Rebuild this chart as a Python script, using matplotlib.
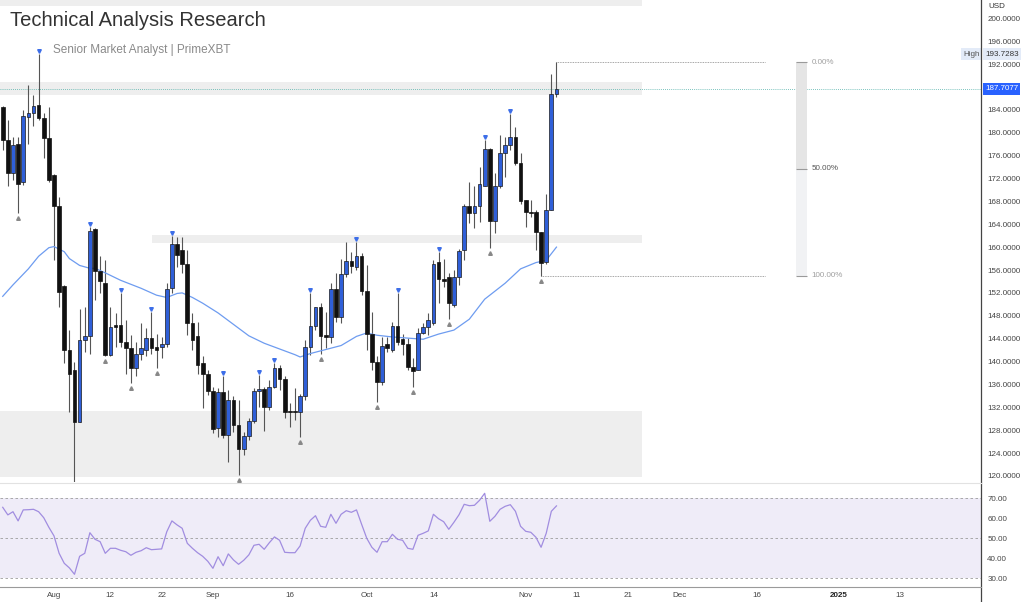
import numpy as np
import pandas as pd
import matplotlib
matplotlib.use('Agg')
import matplotlib.pyplot as plt
import matplotlib.dates as mdates
from matplotlib.lines import Line2D
from matplotlib.transforms import blended_transform_factory, offset_copy

plt.rcParams['font.family'] = ['Liberation Sans', 'DejaVu Sans']

# daily candles, 22 Jul 2024 -> 7 Nov 2024
opens = [184.5, 178.8, 173.0, 178.0, 171.3, 182.7, 183.5, 184.9, 182.5, 179.1,
         172.6, 167.2, 153.2, 142.1, 138.5, 129.4, 143.8, 144.5, 163.2, 155.8,
         153.8, 141.1, 146.4, 146.4, 143.4, 142.3, 138.8, 141.4, 142.1, 144.1,
         142.6, 142.6, 143.1, 152.8, 160.5, 159.5, 157.0, 146.7, 144.5, 139.7,
         137.8, 134.9, 128.4, 134.6, 127.2, 133.3, 128.9, 124.7, 127.0, 129.6,
         134.9, 135.2, 132.1, 135.6, 138.8, 136.9, 131.4, 131.2, 131.1, 133.9,
         142.6, 146.3, 149.5, 144.6, 144.3, 152.6, 147.8, 155.3, 157.6, 156.6,
         158.5, 152.4, 144.9, 140.0, 136.5, 143.1, 142.0, 146.2, 143.9, 143.1,
         139.0, 138.5, 145.0, 146.1, 146.7, 157.4, 154.5, 154.7, 149.9, 154.7,
         159.5, 167.2, 166.0, 167.1, 170.6, 177.1, 164.6, 170.6, 176.4, 177.8,
         179.3, 174.7, 168.3, 166.2, 166.1, 162.6, 157.4, 166.5, 186.7]
highs = [184.6, 182.2, 179.3, 179.3, 184.0, 188.3, 186.6, 193.7283, 183.4, 184.5,
         172.8, 168.8, 153.3, 145.5, 140.0, 149.1, 149.6, 163.5, 163.4, 158.4,
         157.7, 149.6, 148.4, 151.9, 147.3, 144.6, 143.5, 146.8, 145.8, 148.7,
         144.9, 144.3, 153.7, 161.9, 161.8, 161.7, 159.5, 148.5, 147.0, 140.9,
         138.5, 135.6, 135.3, 137.4, 135.0, 133.9, 133.3, 127.7, 130.1, 135.3,
         137.6, 135.6, 136.8, 139.7, 139.4, 137.4, 132.7, 135.3, 134.4, 143.8,
         151.9, 149.6, 150.2, 148.7, 153.7, 155.4, 157.9, 160.9, 159.2, 160.9,
         158.9, 156.9, 148.7, 140.9, 144.3, 144.3, 147.0, 152.0, 144.9, 144.1,
         140.6, 145.8, 146.7, 148.4, 157.7, 159.2, 157.9, 155.4, 156.0, 159.6,
         167.6, 171.4, 170.7, 174.0, 178.7, 177.3, 172.9, 179.6, 179.3, 183.2,
         181.0, 176.4, 168.3, 168.2, 166.5, 162.6, 169.2, 190.2, 192.35]
lows = [177.0, 170.7, 171.7, 165.9, 170.9, 178.1, 181.2, 182.2, 175.5, 171.3,
        157.7, 149.6, 139.7, 131.1, 118.9, 129.4, 141.7, 141.4, 150.8, 151.9,
        141.0, 141.0, 142.6, 142.6, 137.9, 136.2, 137.4, 140.3, 140.9, 141.4,
        138.8, 140.6, 142.6, 151.9, 156.6, 155.4, 144.6, 142.0, 137.9, 131.8,
        134.2, 127.5, 126.9, 126.6, 122.4, 127.7, 120.2, 123.7, 126.3, 129.2,
        132.1, 127.9, 131.5, 135.3, 135.0, 130.1, 128.6, 129.8, 126.9, 133.3,
        141.1, 145.5, 141.4, 142.3, 143.2, 147.0, 146.7, 154.8, 155.4, 156.0,
        151.6, 142.0, 138.5, 133.0, 135.9, 141.7, 141.7, 142.9, 141.1, 138.5,
        135.6, 138.5, 144.9, 144.6, 146.4, 150.2, 153.1, 147.5, 149.6, 153.4,
        157.7, 164.2, 163.3, 164.4, 170.6, 159.8, 162.4, 170.3, 172.3, 177.0,
        174.3, 167.6, 163.6, 165.3, 159.5, 155.0, 157.0, 166.5, 186.2]
closes = [178.8, 173.0, 177.8, 171.1, 182.9, 183.5, 184.7, 182.5, 179.1, 171.7,
          167.2, 152.2, 142.0, 137.8, 129.4, 143.8, 144.5, 162.9, 155.8, 154.0,
          141.1, 146.1, 146.1, 143.4, 142.3, 138.8, 141.4, 142.3, 144.1, 142.3,
          142.1, 143.1, 152.7, 160.5, 158.6, 157.0, 146.7, 143.8, 139.4, 137.8,
          134.9, 128.3, 134.6, 127.2, 133.3, 128.9, 124.7, 127.0, 129.6, 134.9,
          135.2, 132.0, 135.6, 138.8, 136.9, 131.2, 131.1, 131.1, 133.9, 142.6,
          146.3, 149.5, 144.5, 144.3, 152.6, 147.8, 155.3, 157.5, 156.7, 158.5,
          152.4, 144.9, 140.0, 136.5, 142.7, 142.3, 146.2, 143.5, 143.1, 139.0,
          138.4, 145.0, 146.1, 147.3, 157.0, 154.5, 154.0, 150.2, 154.8, 159.4,
          167.2, 165.9, 167.1, 171.0, 177.1, 164.6, 170.6, 176.4, 177.8, 179.3,
          174.7, 168.1, 166.1, 165.9, 162.6, 157.3, 166.5, 186.7, 187.7077]

rsi = [65.5, 61.7, 63.3, 58.7, 64.2, 64.3, 64.5, 63.3, 60.3, 55.5,
       51.2, 42.5, 37.5, 35.2, 32.0, 41.0, 42.5, 52.8, 49.5, 48.3,
       42.5, 45.0, 45.0, 44.0, 43.3, 41.5, 43.0, 43.8, 45.3, 44.3,
       44.5, 44.7, 53.3, 58.7, 56.7, 55.0, 47.5, 45.0, 42.8, 41.0,
       38.5, 35.0, 40.8, 36.3, 42.2, 39.2, 37.0, 39.0, 41.7, 46.5,
       47.0, 44.5, 47.8, 50.7, 49.0, 43.0, 42.8, 42.8, 46.2, 55.0,
       59.0, 61.3, 56.0, 55.5, 62.0, 57.5, 62.0, 63.8, 63.0, 64.2,
       57.0, 50.0, 45.5, 43.0, 48.3, 48.3, 52.0, 49.5, 49.0, 45.0,
       44.5, 51.5, 52.5, 53.7, 62.0, 59.8, 58.3, 54.5, 58.0, 61.8,
       67.0, 66.3, 66.5, 69.0, 72.5, 58.5, 61.0, 64.5, 66.0, 66.8,
       63.5, 56.0, 53.5, 53.0, 50.5, 45.5, 52.5, 63.5, 66.2]

# moving average (day offset, value)
ma_days = [0, 2, 5, 7, 9, 10, 12, 13, 15, 17, 18, 20, 23, 27, 30, 32, 34, 35, 37,
           39, 42, 45, 48, 51, 54, 57, 58, 60, 63, 66, 69, 71, 73, 76, 79, 82, 85,
           88, 91, 94, 98, 101, 104, 106, 108]
ma_vals = [151.4, 153.4, 156.2, 158.4, 159.9, 160.1, 159.2, 158.0, 156.8, 156.3,
           156.3, 155.5, 154.2, 152.8, 151.6, 151.2, 151.9, 152.0, 151.2, 150.2,
           148.5, 146.5, 144.5, 143.2, 142.2, 141.2, 140.8, 141.4, 142.1, 142.8,
           144.4, 145.0, 144.6, 144.3, 144.1, 143.9, 144.8, 145.5, 147.4, 150.9,
           153.7, 156.2, 157.3, 157.7, 160.0]

pivot_high_idx = [7, 17, 23, 29, 33, 43, 50, 53, 60, 69, 77, 85, 94, 99]
pivot_low_idx = [3, 20, 25, 30, 46, 58, 62, 73, 80, 87, 95, 105]

# zones (low, high, start day or None for left edge)
zones = [(202.1, 203.2, None), (186.6, 188.9, None), (160.7, 162.1, 29.1), (119.8, 131.4, None)]
zone_end = 124.7
fib_high, fib_low = 192.35, 155.0

price_ticks = [v for v in range(120, 201, 4) if v != 188]

start = pd.Timestamp('2024-07-22')
dates = pd.date_range(start, periods=len(opens), freq='D')
x = mdates.date2num(dates)
x0 = mdates.date2num(start)

tick_dates = ['2024-08-01', '2024-08-12', '2024-08-22', '2024-09-01', '2024-09-16',
              '2024-10-01', '2024-10-14', '2024-11-01', '2024-11-11', '2024-11-21',
              '2024-12-01', '2024-12-16', '2025-01-01', '2025-01-13']
tick_labels = ['Aug', '12', '22', 'Sep', '16', 'Oct', '14', 'Nov', '11', '21',
               'Dec', '16', '2025', '13']

o = np.array(opens); h = np.array(highs); l = np.array(lows); c = np.array(closes)
up = c >= o

fig = plt.figure(figsize=(10.24, 6.02), dpi=100)
fig.patch.set_facecolor('white')
W = 981 / 1024
ax = fig.add_axes([0, 120 / 602, W, 482 / 602])
rax = fig.add_axes([0, 15 / 602, W, 104 / 602], sharex=ax)

xmin, xmax = x0 - 0.53, x0 + 190.8
ax.set_xlim(xmin, xmax)
ax.set_ylim(118.95, 203.19)
rax.set_ylim(25.65, 77.65)

for a in (ax, rax):
    for s in a.spines.values():
        s.set_visible(False)
    a.yaxis.tick_right()
    a.tick_params(axis='y', length=0, pad=4.5, labelsize=5.8, labelcolor='#444')

# zones
for lo, hi, xs in zones:
    left = xmin if xs is None else x0 + xs
    ax.fill_between([left, x0 + zone_end], lo, hi, color='#eeeeee', lw=0, zorder=0)

# last price line
last = closes[-1]
ax.axhline(last, color='#4fb0a8', lw=0.6, ls=(0, (1, 1.5)), zorder=1)

# candles
blue = '#2f5fd8'
ax.vlines(x, l, h, color='#555555', lw=0.8, zorder=2)
body_lo = np.minimum(o, c)
body_h = np.maximum(np.abs(c - o), 0.25)
ax.bar(x[up], body_h[up], bottom=body_lo[up], width=0.72, color=blue,
       edgecolor='#1b1b1b', linewidth=0.5, zorder=3)
ax.bar(x[~up], body_h[~up], bottom=body_lo[~up], width=0.72, color='#111111',
       edgecolor='#111111', linewidth=0.5, zorder=3)

# moving average
ax.plot(x0 + np.array(ma_days), ma_vals, color='#6e9cf0', lw=0.9, zorder=2.5)

# pivot markers
tr_up = offset_copy(ax.transData, fig=fig, y=3, units='dots')
tr_dn = offset_copy(ax.transData, fig=fig, y=-5, units='dots')
ax.plot(x[pivot_high_idx], h[pivot_high_idx], 'v', ms=2.6, color='#3d6ee8',
        transform=tr_up, zorder=4)
ax.plot(x[pivot_low_idx], l[pivot_low_idx], '^', ms=2.6, color='#888888',
        transform=tr_dn, zorder=4)

# fib retracement
fib_mid = (fib_high + fib_low) / 2
fx1, fx2 = x0 + 154.7, x0 + 156.8
ax.fill_between([fx1, fx2], fib_mid, fib_high, color='#e5e5e5', lw=0, zorder=1)
ax.fill_between([fx1, fx2], fib_low, fib_mid, color='#f1f2f4', lw=0, zorder=1)
for lev, lab, col in [(fib_high, '0.00%', '#a0a0a0'), (fib_mid, '50.00%', '#555555'),
                      (fib_low, '100.00%', '#a0a0a0')]:
    ax.hlines(lev, fx1, fx2, color='#9a9a9a', lw=0.8, zorder=2)
    ax.text(x0 + 157.7, lev, lab, fontsize=5.8, color=col, va='center', ha='left')
ax.hlines(fib_high, x[-1], x0 + 148.7, color='#888888', lw=0.6, ls=(0, (1, 1)), zorder=1)
ax.hlines(fib_low, x[-4], x0 + 148.7, color='#888888', lw=0.6, ls=(0, (1, 1)), zorder=1)

ax.set_yticks(price_ticks)
ax.set_yticklabels(['%.4f' % v for v in price_ticks])
ax.tick_params(axis='x', bottom=False, labelbottom=False)

# price tags on the axis
bt = blended_transform_factory(ax.transAxes, ax.transData)
ax.text(1.004, last, '%.4f' % last, transform=bt, fontsize=5.8, color='white',
        va='center', ha='left', clip_on=False, zorder=10,
        bbox=dict(boxstyle='square,pad=0.3', fc='#2962ff', ec='none'))
top = max(highs)
ax.text(1.004, top, '%.4f' % top, transform=bt, fontsize=5.8, color='#333333',
        va='center', ha='left', clip_on=False, zorder=10,
        bbox=dict(boxstyle='square,pad=0.3', fc='#e3ebf8', ec='none'))
ax.text(0.9985, top, 'High', transform=bt, fontsize=5.8, color='#555555',
        va='center', ha='right', clip_on=False, zorder=10,
        bbox=dict(boxstyle='square,pad=0.3', fc='#e3ebf8', ec='none'))

# RSI pane
rax.fill_between([xmin, xmax], 30, 70, color='#efecf8', lw=0, zorder=0)
for lev in (30, 50, 70):
    rax.axhline(lev, color='#9c9c9c', lw=0.6, ls=(0, (3, 3)), zorder=1)
rax.plot(x, rsi, color='#a18de0', lw=0.9, zorder=2)
rax.set_yticks([30, 40, 50, 60, 70])
rax.set_yticklabels(['%.2f' % v for v in [30, 40, 50, 60, 70]])
tick_x = mdates.date2num(pd.to_datetime(tick_dates))
rax.set_xticks(tick_x)
rax.set_xticklabels(tick_labels)
rax.tick_params(axis='x', length=0, pad=3.5, labelsize=5.8, labelcolor='#444')
for t in rax.get_xticklabels():
    if t.get_text() == '2025':
        t.set_fontweight('bold')
        t.set_color('#222')

# separators
fig.add_artist(Line2D([W, W], [0, 1], color='#444444', lw=0.9))
fig.add_artist(Line2D([0, W], [1 - 482.5 / 602] * 2, color='#e2e2e2', lw=0.8))
fig.add_artist(Line2D([0, W], [15 / 602] * 2, color='#9a9a9a', lw=0.8))

# header texts
fig.text(988 / 1024, 1 - 7 / 602, 'USD', fontsize=5.8, color='#333', va='center',
         ha='left', bbox=dict(boxstyle='square,pad=0.5', fc='white', ec='none'))
fig.text(10 / 1024, 1 - 21 / 602, 'Technical Analysis Research', fontsize=14.5,
         color='#333333', va='center', ha='left')
fig.text(53 / 1024, 1 - 50 / 602, 'Senior Market Analyst | PrimeXBT', fontsize=8.5,
         color='#8a8a8a', va='center', ha='left')

fig.savefig('out.png', dpi=100, facecolor='white')
